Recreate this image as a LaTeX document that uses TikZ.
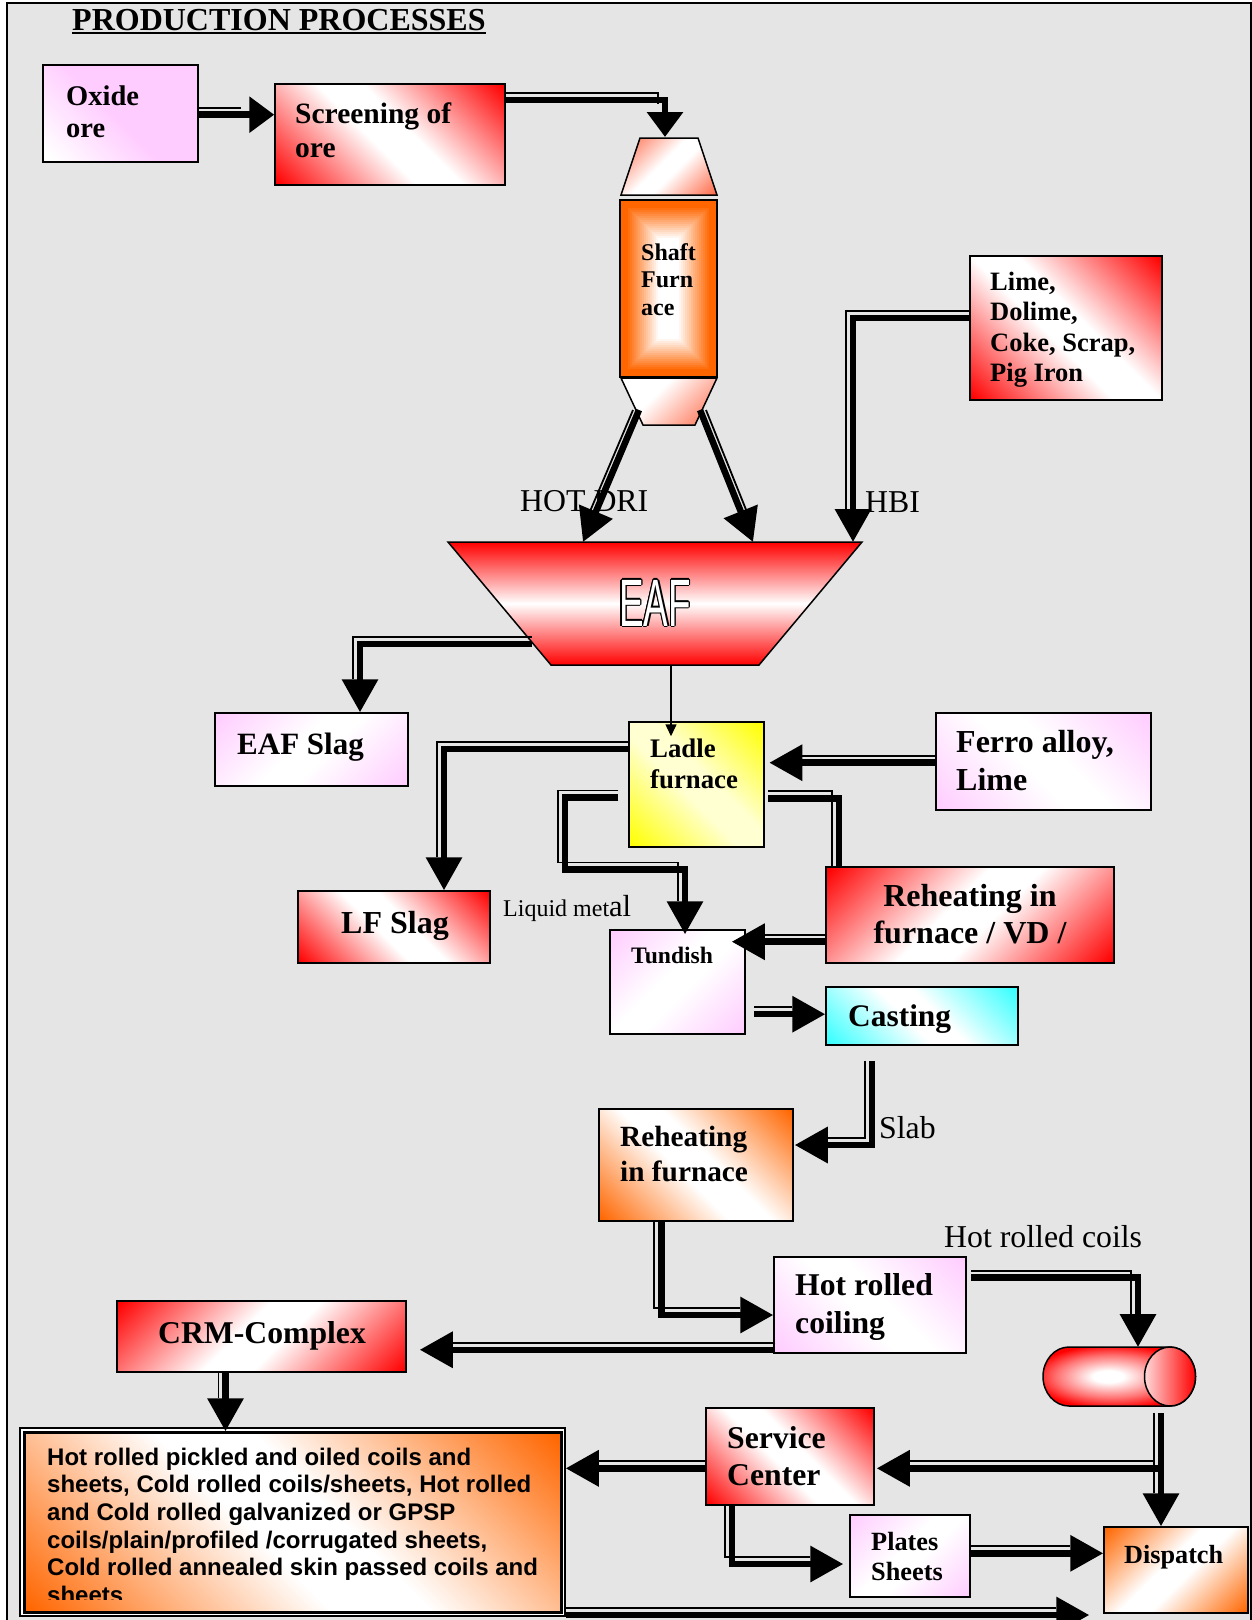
\documentclass[tikz,border=0pt]{standalone}
\usepackage{fontspec}
\setmainfont{Liberation Serif}
\newfontfamily\arialf{Liberation Sans}
\newfontfamily\eaff[FakeStretch=0.55]{Liberation Sans}
\usetikzlibrary{arrows.meta,calc}

\definecolor{bgc}{HTML}{E5E5E5}
\definecolor{pinkc}{HTML}{FFCCFF}
\definecolor{redc}{HTML}{FF0000}
\definecolor{orc}{HTML}{FF6600}
\definecolor{yelc}{HTML}{FFFF00}
\definecolor{yelm}{HTML}{FFFFD2}
\definecolor{cyc}{HTML}{33FFFF}
\definecolor{salc}{HTML}{FF6644}

\pgfdeclarehorizontalshading{dRed}{100bp}{color(0bp)=(redc); color(15bp)=(redc); color(45bp)=(white); color(55bp)=(white); color(85bp)=(redc); color(100bp)=(redc)}
\pgfdeclarehorizontalshading{dPink}{100bp}{color(0bp)=(pinkc); color(15bp)=(pinkc); color(45bp)=(white); color(55bp)=(white); color(85bp)=(pinkc); color(100bp)=(pinkc)}
\pgfdeclarehorizontalshading{dOr}{100bp}{color(0bp)=(orc); color(15bp)=(orc); color(45bp)=(white); color(55bp)=(white); color(85bp)=(orc); color(100bp)=(orc)}
\pgfdeclarehorizontalshading{dYel}{100bp}{color(0bp)=(yelc); color(15bp)=(yelc); color(45bp)=(yelm); color(55bp)=(yelm); color(85bp)=(yelc); color(100bp)=(yelc)}
\pgfdeclarehorizontalshading{dCy}{100bp}{color(0bp)=(cyc); color(15bp)=(cyc); color(45bp)=(white); color(55bp)=(white); color(85bp)=(cyc); color(100bp)=(cyc)}
\pgfdeclarehorizontalshading{dSal}{100bp}{color(0bp)=(salc); color(15bp)=(salc); color(45bp)=(white); color(55bp)=(white); color(85bp)=(salc); color(100bp)=(salc)}
\pgfdeclarehorizontalshading{dOx}{100bp}{color(0bp)=(white); color(18bp)=(white); color(48bp)=(pinkc); color(100bp)=(pinkc)}
\pgfdeclarehorizontalshading{dShB}{100bp}{color(0bp)=(white); color(40bp)=(white); color(85bp)=(salc); color(100bp)=(salc)}
\pgfdeclareverticalshading{vRed}{100bp}{color(0bp)=(redc); color(25bp)=(redc); color(50bp)=(white); color(75bp)=(redc); color(100bp)=(redc)}
\pgfdeclareradialshading{coilsh}{\pgfpoint{-4bp}{0bp}}{color(0bp)=(white); color(5bp)=(white); color(18bp)=(redc!55!white); color(27bp)=(redc); color(50bp)=(redc)}

\newcommand\DC[3]{\draw[thn,#2] #3; \draw[thk,#1] #3;}
\newcommand\tb[3]{\parbox[t]{500pt}{\raggedright\fontsize{#1}{#2}\selectfont\bfseries #3}}
\newcommand\tbc[3]{\parbox[t]{400pt}{\centering\fontsize{#1}{#2}\selectfont\bfseries #3}}

\begin{document}
\begin{tikzpicture}[x=1pt,y=-1pt,
  box/.style={draw=black, line width=1.5pt, inner sep=0pt, rectangle},
  thk/.style={line width=6.5pt, -{Triangle[length=33pt 0 0, width=35pt 0 0]}},
  tip25/.style={-{Triangle[length=25pt 0 0, width=35pt 0 0]}},
  thn/.style={line width=1.8pt, shorten <=7pt, shorten >=26pt},
  sh/.style={transform canvas={shift={(-7pt,7pt)}}},
  lt/.style={shorten <=-7pt},
  tx/.style={anchor=base west, inner sep=0pt},
  txc/.style={anchor=base, inner sep=0pt},
  lbl/.style={anchor=base west, inner sep=0pt, font=\fontsize{31.8}{36}\selectfont},
]
\useasboundingbox (0,0) rectangle (1252,1620);
\fill[white] (0,0) rectangle (1252,1620);
\draw[line width=2pt, fill=bgc] (6.7,3.3) rectangle (1250.5,1650);

% title
\node[tx] (title) at (72,30) {\fontsize{32}{36}\selectfont\bfseries PRODUCTION PROCESSES};
\draw[line width=2.3pt] ($(title.base west)+(0,3)$) -- ($(title.base east)+(0,3)$);

% boxes
\node[box, shading=dOx, shading angle=45, minimum width=155pt, minimum height=97pt] (oxide) at (120.5,113.5) {};
\node[box, shading=dRed, shading angle=45, minimum width=230pt, minimum height=101pt] (screen) at (390,134.5) {};
\node[box, shading=dRed, shading angle=45, minimum width=192pt, minimum height=144pt] (lime) at (1066,328) {};
\node[box, shading=dPink, shading angle=-45, minimum width=193pt, minimum height=73pt] (eafslag) at (311.5,749.5) {};
\node[box, shading=dYel, shading angle=45, minimum width=135pt, minimum height=125pt] (ladle) at (696.5,784.5) {};
\node[box, shading=dPink, shading angle=45, minimum width=215pt, minimum height=97pt] (ferro) at (1043.5,761.5) {};
\node[box, shading=dRed, shading angle=45, minimum width=192pt, minimum height=72pt] (lfslag) at (394,927) {};
\node[box, shading=dRed, shading angle=-45, minimum width=288pt, minimum height=96pt] (reheatvd) at (970,915) {};
\node[box, shading=dPink, shading angle=-45, minimum width=135pt, minimum height=104pt] (tundish) at (677.5,982) {};
\node[box, shading=dCy, shading angle=45, minimum width=192pt, minimum height=58pt] (casting) at (922,1016) {};
\node[box, shading=dOr, shading angle=45, minimum width=194pt, minimum height=112pt] (reheat) at (696,1165) {};
\node[box, shading=dPink, shading angle=45, minimum width=192pt, minimum height=96pt] (hrc) at (870,1305) {};
\node[box, shading=dRed, shading angle=-45, minimum width=289pt, minimum height=71pt] (crm) at (261.5,1336.5) {};
\node[box, shading=dRed, shading angle=45, minimum width=168pt, minimum height=97pt] (service) at (790,1456.5) {};
\node[box, shading=dPink, shading angle=-45, minimum width=120pt, minimum height=82pt] (plates) at (910,1556) {};
\node[box, shading=dOr, shading angle=-45, minimum width=144pt, minimum height=86pt] (dispatch) at (1176,1570) {};
\node[draw=black, line width=1.5pt, fill=white, inner sep=0pt, minimum width=545pt, minimum height=188pt] (big) at (292.5,1522) {};
\path[draw=black, line width=3pt, shading=dOr, shading angle=45] (24,1432) rectangle (561,1612);

% shaft furnace
\path[shading=dSal, shading angle=-45, draw=black, line width=1.5pt] (640,138) -- (698,138) -- (717,195) -- (621,195) -- cycle;
\foreach \i in {0,...,24} {\pgfmathsetmacro\pp{min(100,max(0,100*(19-\i)/16))}
  \fill[orc!\pp!white] (620+2*\i,200+2*\i) rectangle (717-2*\i,377-2*\i);}
\draw[line width=1.5pt] (620,200) rectangle (717,377);
\path[shading=dShB, shading angle=-45, draw=black, line width=1.5pt] (621,378) -- (717,378) -- (695,425) -- (643,425) -- cycle;
\coordinate (sbL) at (639,410);
\coordinate (sbR) at (700,410);
\coordinate (shtop) at (665,137);

% EAF
\path[shading=vRed, draw=black, line width=1.5pt] (448,542) -- (862,542) -- (759,665) -- (551,665) -- cycle;
\coordinate (tDL) at (583,542);
\coordinate (tDR) at (753,542);
\coordinate (tHBI) at (853,542);
\coordinate (eafL) at (532,644);
\coordinate (eafB) at (671,665);
\coordinate (eafc) at (655,603);
\foreach \dx/\dy [count=\k] in {-1.3/0,1.3/0,0/-1.3,0/1.3,-0.9/-0.9,0.9/0.9,-0.9/0.9,0.9/-0.9}
  \node[text=black, inner sep=0pt] (eafo\k) at ($(eafc)+(\dx,\dy)$) {\eaff\fontsize{67}{67}\selectfont EAF};
\node[text=white, inner sep=0pt] (eaft) at (eafc) {\eaff\fontsize{67}{67}\selectfont EAF};

% coil
\node[inner sep=0pt, minimum width=153pt, minimum height=59pt] (coil) at (1119.5,1376.5) {};
\path[shading=coilsh, draw=black, line width=1.5pt] (1069,1347) -- (1170,1347) arc[start angle=-90,end angle=90,x radius=25.5,y radius=29.5] -- (1069,1406) arc[start angle=90,end angle=270,x radius=26,y radius=29.5] -- cycle;
\path[left color=redc!15!white, right color=redc, draw=black, line width=1.5pt] (1170,1376.5) ellipse [x radius=25.5, y radius=29.5];

% texts
\node[tx] (toxide) at (66,105) {\tb{28.5}{32.8}{Oxide\\ore}};
\node[tx] (tscreen) at (295,123.3) {\tb{29.5}{33.9}{Screening of\\ore}};
\node[tx] (tshaft) at (641,260) {\tb{24}{27.6}{Shaft\\Furn\\ace}};
\node[tx] (tlime) at (990,290) {\tb{26.5}{30.6}{Lime,\\Dolime,\\Coke, Scrap,\\Pig Iron}};
\node[tx] (tladle) at (650,757.7) {\tb{26.8}{30.7}{Ladle\\furnace}};
\node[tx] (teafslag) at (237,754) {\tb{31}{35}{EAF Slag}};
\node[tx] (tferro) at (956,752.7) {\tb{32}{37.3}{Ferro alloy,\\Lime}};
\node[tx] (tlfslag) at (341,933) {\tb{32}{36}{LF Slag}};
\node[tx] (ttundish) at (631,963.3) {\tb{23.6}{27}{Tundish}};
\node[txc] (treheatvd) at (970,906.7) {\tbc{32}{36.6}{Reheating in\\furnace / VD /}};
\node[tx] (tcasting) at (848,1026.7) {\tb{31.4}{36}{Casting}};
\node[tx] (treheat) at (620,1146.7) {\tb{29.3}{35}{Reheating\\in furnace}};
\node[tx] (thrc) at (795,1295) {\tb{31.7}{38.3}{Hot rolled\\coiling}};
\node[txc] (tcrm) at (262,1343) {\tbc{31.7}{36}{CRM-Complex}};
\node[tx] (tservice) at (727,1448.3) {\tb{31.7}{36.7}{Service\\Center}};
\node[tx] (tplates) at (871,1550.7) {\tb{26.3}{29.3}{Plates\\Sheets}};
\node[tx] (tdispatch) at (1124,1563) {\tb{26.2}{30}{Dispatch}};
\begin{scope}
\clip (24,1432) rectangle (561,1599);
\node[tx] (tbig) at (47,1465) {\parbox[t]{520pt}{\raggedright\arialf\bfseries\fontsize{24}{27.7}\selectfont
Hot rolled pickled and oiled coils and\\
sheets, Cold rolled coils/sheets, Hot rolled\\
and Cold rolled galvanized or GPSP\\
coils/plain/profiled /corrugated sheets,\\
Cold rolled annealed skin passed coils and\\
sheets}};
\end{scope}

% labels
\node[lbl] (lhot) at (520,511) {HOT DRI};
\node[lbl] (lhbi) at (865,512) {HBI};
\node[tx] (lliq) at (503,916) {\fontsize{24}{28}\selectfont Liquid met\fontsize{30.5}{34}\selectfont al};
\node[lbl] (lslab) at (879,1138) {Slab};
\node[lbl] (lhrc) at (944,1247) {Hot rolled coils};

% connectors
\coordinate (cA) at ($(oxide.east)+(0,1.2)$);
\DC{tip25}{sh}{(cA) -- (cA -| screen.west)}
\coordinate (cB) at ($(screen.north east)+(0,16.5)$);
\DC{tip25}{sh}{(cB) -| (shtop)}
\DC{}{transform canvas={shift={(-6pt,0pt)}},shorten <=0pt}{(sbL) -- (tDL)}
\DC{}{transform canvas={shift={(6pt,0pt)}},shorten <=0pt}{(sbR) -- (tDR)}
\coordinate (cH) at ($(lime.west)+(0,-10)$);
\DC{}{sh,lt}{(cH) -| (tHBI)}
\DC{}{sh,lt}{(eafL) -| ($(eafslag.north)+(48.5,0)$)}
\coordinate (lIn) at ($(eafB |- ladle.north)+(0,15)$);
\draw[line width=1.5pt, -{Triangle[length=12pt 0 0, width=11pt 0 0]}] (eafB) -- (lIn);
\coordinate (cG) at ($(ladle.west)+(0,-35.5)$);
\DC{}{sh,lt}{(cG) -| ($(lfslag.north)+(50,0)$)}
\coordinate (cT) at ($(ladle.west)+(-10,13)$);
\DC{}{sh,lt}{(cT) -| ($(cT)+(-53.5,72)$) -| ($(tundish.north)+(7.5,5)$)}
\coordinate (cF) at ($(ferro.west)+(0,1.2)$);
\DC{}{sh,lt}{(cF) -- ($(cF -| ladle.east)+(4.6,0)$)}
\coordinate (cJ) at ($(ladle.east)+(3.3,13.8)$);
\DC{-}{sh,shorten >=-7pt}{(cJ) -| ($(reheatvd.north west)+(13.7,1)$)}
\coordinate (cK) at ($(reheatvd.west)+(0,26.7)$);
\DC{}{sh,lt}{(cK) -- ($(cK -| tundish.east)+(-14,0)$)}
\coordinate (cL) at ($(tundish.east)+(8.6,32.2)$);
\DC{}{sh}{(cL) -- (cL -| casting.west)}
\coordinate (cM) at ($(casting.south)+(-50,15)$);
\DC{}{sh}{(cM) |- ($(reheat.east)+(1,-20)$)}
\coordinate (cN) at ($(reheat.south)+(-34.7,0)$);
\DC{}{sh}{(cN) |- ($(hrc.west)+(0,10)$)}
\coordinate (cO) at ($(hrc.east)+(4.4,-27.3)$);
\coordinate (coilT) at (1138,1347);
\DC{}{sh}{(cO) -| (coilT)}
\coordinate (cP) at ($(hrc.south west)+(2,-4)$);
\DC{}{sh,lt}{(cP) -- ($(cP -| crm.east)+(13,0)$)}
\coordinate (cQ) at ($(crm.south)+(-36,0)$);
\DC{}{sh}{(cQ) -- ($(cQ |- big.north)+(0,4)$)}
\coordinate (cR) at (1161,1413);
\DC{}{sh}{(cR) -- (cR |- dispatch.north)}
\coordinate (cS) at (1161,1468.3);
\DC{}{sh,shorten <=0pt}{(cS) -- ($(cS -| service.east)+(2,0)$)}
\coordinate (cT2) at ($(service.west)+(0,11.8)$);
\DC{}{sh,lt}{(cT2) -- (cT2 -| big.east)}
\coordinate (cU) at ($(service.south)+(-58,0)$);
\DC{}{sh}{(cU) |- ($(plates.west)+(-6,8)$)}
\coordinate (cV) at ($(plates.east)+(0,-2.7)$);
\DC{}{sh}{(cV) -- (cV -| dispatch.west)}
\coordinate (cW) at ($(big.east)+(0,93)$);
\DC{}{sh}{(cW) -- ($(cW -| dispatch.west)+(-14,0)$)}
\end{tikzpicture}
\end{document}
